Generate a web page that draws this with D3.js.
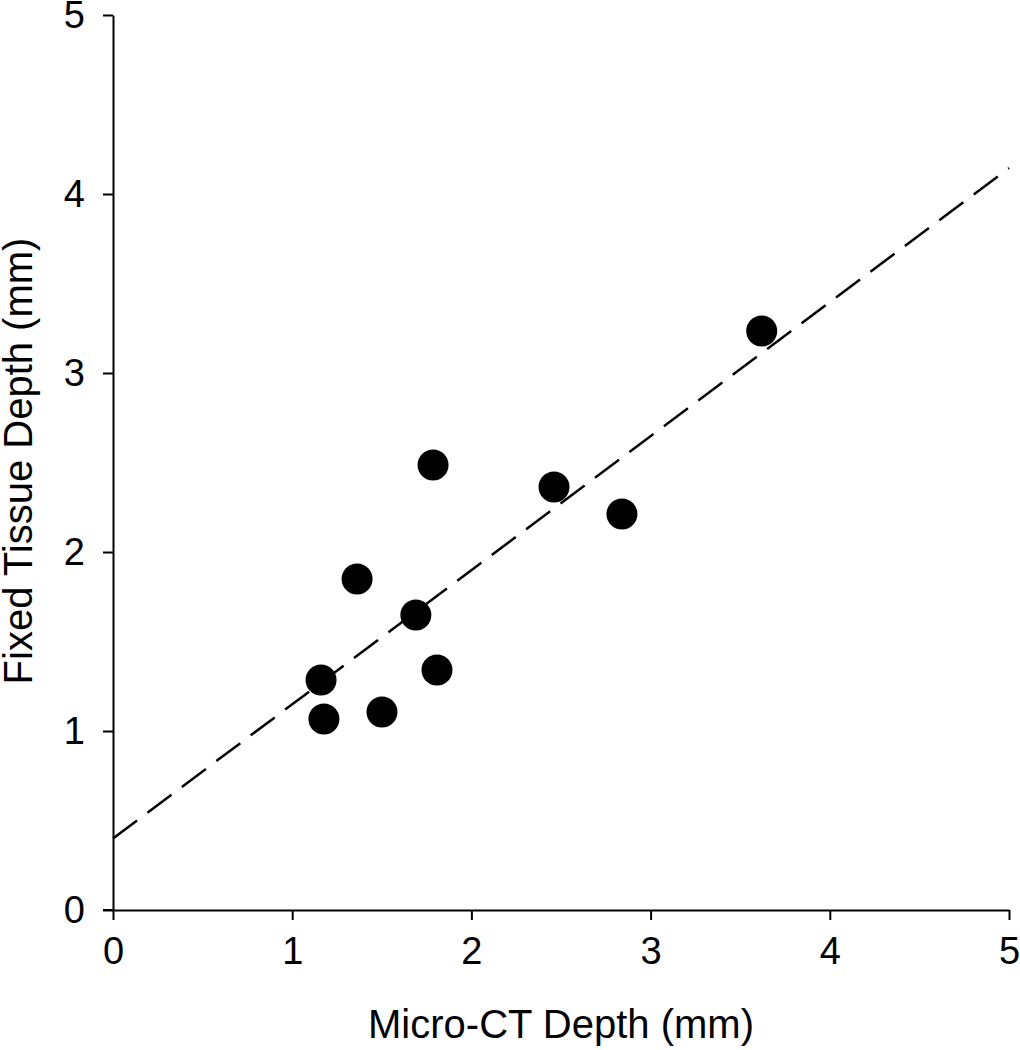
<!DOCTYPE html>
<html><head><meta charset="utf-8">
<script src="https://cdn.jsdelivr.net/npm/d3@7"></script>
<style>body{margin:0;background:#fff}</style>
</head><body>
<script>
const microCT = [3.62, 1.786, 2.461, 2.84, 1.362, 1.69, 1.161, 1.808, 1.177, 1.501];
const fixedTissue = [3.235, 2.486, 2.363, 2.212, 1.849, 1.648, 1.285, 1.341, 1.067, 1.106];
const fitIntercept = 0.40;
const fitSlope = 0.749;
const xTicks = [0, 1, 2, 3, 4, 5];
const yTicks = [0, 1, 2, 3, 4, 5];

const W = 1020, H = 1050;
const svg = d3.select("body").append("svg").attr("width", W).attr("height", H);
const x = d3.scaleLinear().domain([0, 5]).range([113, 1009]);
const y = d3.scaleLinear().domain([0, 5]).range([910, 15]);
const font = "Liberation Sans, Arial, sans-serif";

const xa = svg.append("g").attr("transform", "translate(0,910)")
  .call(d3.axisBottom(x).tickValues(xTicks).tickSize(10).tickPadding(17).tickSizeOuter(0).tickFormat(d3.format("d")));
const ya = svg.append("g").attr("transform", "translate(113,0)")
  .call(d3.axisLeft(y).tickValues(yTicks).tickSize(10).tickPadding(18).tickSizeOuter(0).tickFormat(d3.format("d")));
[xa, ya].forEach(g => {
  g.selectAll("path.domain").attr("stroke", "#000").attr("stroke-width", 2);
  g.selectAll(".tick line").attr("stroke", "#000").attr("stroke-width", 2);
  g.selectAll(".tick text").attr("font-family", font).attr("font-size", 38).attr("fill", "#000");
});
// extend x-axis line left to meet tick at y=0
svg.append("line").attr("x1", 103).attr("x2", 113).attr("y1", 910).attr("y2", 910).attr("stroke", "#000").attr("stroke-width", 2);

// fit line
svg.append("line")
  .attr("x1", x(0)).attr("y1", y(fitIntercept))
  .attr("x2", x(5)).attr("y2", y(fitIntercept + fitSlope * 5))
  .attr("stroke", "#000").attr("stroke-width", 2.5).attr("stroke-dasharray", "30,13");

svg.append("g").selectAll("circle").data(microCT).join("circle")
  .attr("cx", d => x(d)).attr("cy", (d, i) => y(fixedTissue[i])).attr("r", 15.5).attr("fill", "#000");

svg.append("text").attr("x", 561).attr("y", 1038).attr("text-anchor", "middle")
  .attr("font-family", font).attr("font-size", 40).text("Micro-CT Depth (mm)");
svg.append("text").attr("transform", "translate(32,461) rotate(-90)").attr("text-anchor", "middle")
  .attr("font-family", font).attr("font-size", 40).text("Fixed Tissue Depth (mm)");
</script>
</body></html>
